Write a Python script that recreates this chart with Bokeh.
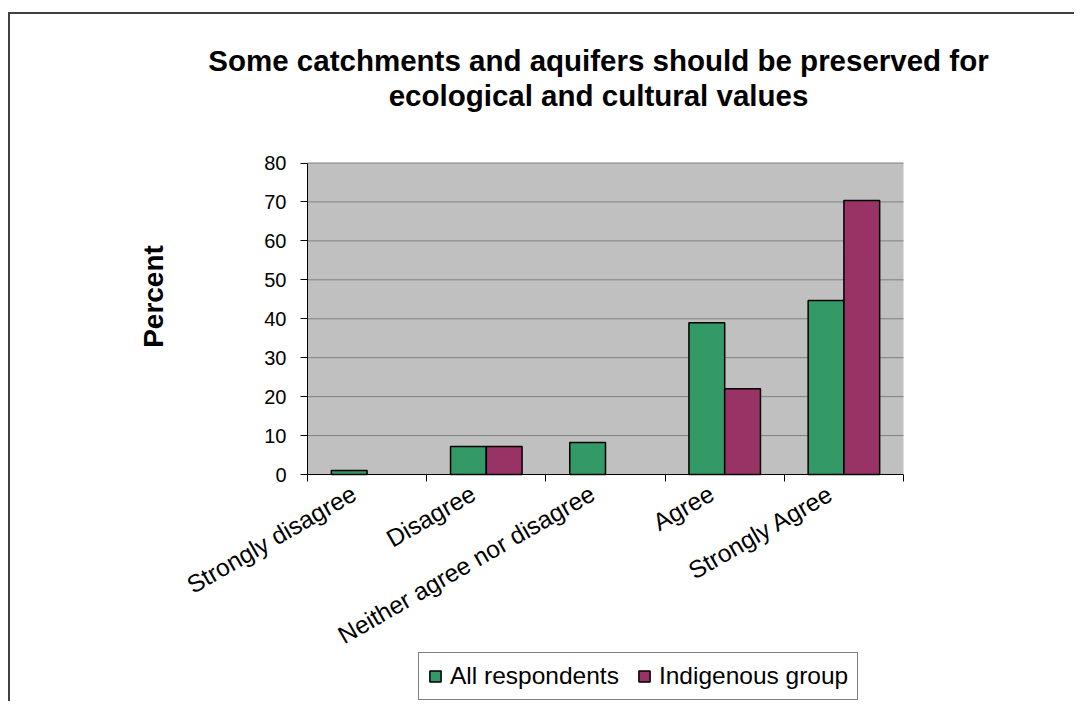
import numpy as np
from math import pi
from bokeh.plotting import figure
from bokeh.models import (FixedTicker, Legend, LegendItem, Label, Range1d,
                          LinearAxis, BoxAnnotation)
from bokeh.embed import file_html
from bokeh.resources import INLINE

# ---- data ----
title_lines = ["Some catchments and aquifers should be preserved for",
               "ecological and cultural values"]
categories = ["Strongly disagree", "Disagree", "Neither agree nor disagree",
              "Agree", "Strongly Agree"]
all_respondents = [1.0, 7.2, 8.2, 39.0, 44.7]
indigenous_group = [0.0, 7.2, 0.0, 22.0, 70.4]
series_names = ["All respondents", "Indigenous group"]
series_colors = ["#339966", "#993366"]
y_ticks = [0, 10, 20, 30, 40, 50, 60, 70, 80]
y_label = "Percent"

# ---- layout (canvas pixels) ----
FONT = "Liberation Sans"
W, H = 1066, 689
PL, PR, PT, PB = 297.0, 893.0, 148.5, 460.0   # plot-area edges on the canvas
LABEL_SHIFT = -13.0                            # px shift of category labels
ncat = len(categories)
ymin, ymax = y_ticks[0], y_ticks[-1]
sx = (PR - PL) / ncat
sy = (PB - PT) / (ymax - ymin)
x_range = Range1d(-PL / sx, ncat + (W - PR) / sx)
y_range = Range1d(ymin - (H - PB) / sy, ymax + PT / sy)

p = figure(width=W, height=H, x_range=x_range, y_range=y_range,
           output_backend="svg", toolbar_location=None,
           x_axis_location=None, y_axis_location=None,
           min_border=0)
p.styles = {"border-left": "2px solid #404040", "border-top": "2px solid #404040",
            "margin-top": "12px", "margin-left": "8px"}
p.background_fill_color = "white"
p.border_fill_color = "white"
p.outline_line_color = None
p.xgrid.visible = False
p.ygrid.visible = False

# plot area background + gridlines
p.add_layout(BoxAnnotation(left=0, right=ncat, bottom=ymin, top=ymax,
                           fill_color="#C0C0C0", fill_alpha=1, line_color=None,
                           level="underlay"))
gy = np.array(y_ticks[1:], dtype=float)
p.segment(x0=np.zeros_like(gy), x1=np.full_like(gy, ncat), y0=gy, y1=gy,
          line_color="#808080", line_width=1)

idx = np.arange(ncat)
bw = 0.3
renderers = []
for k, (vals, col) in enumerate(zip([all_respondents, indigenous_group], series_colors)):
    vals = np.array(vals)
    xs = idx + 0.5 + (k - 0.5) * bw
    m = vals > 0
    r = p.vbar(x=xs[m], top=vals[m], bottom=0, width=bw, fill_color=col,
               line_color="black", line_width=1.5)
    renderers.append(r)

# x axis: ticks at category boundaries, labels at centres
label_pos = [round(float(i + 0.5 + LABEL_SHIFT / sx), 6) for i in idx]
xa = LinearAxis(fixed_location=ymin, bounds=(0, ncat))
xa.ticker = FixedTicker(ticks=label_pos, minor_ticks=list(range(ncat + 1)))
xa.major_label_overrides = {lp: c for lp, c in zip(label_pos, categories)}
xa.major_tick_out = 0
xa.major_tick_in = 0
xa.minor_tick_out = 7
xa.minor_tick_in = 0
xa.minor_tick_line_color = "black"
xa.axis_line_color = "black"
xa.major_label_orientation = pi / 6
xa.major_label_text_font = FONT
xa.major_label_text_font_size = "24.5px"
xa.major_label_text_color = "black"
xa.major_label_standoff = 10
p.add_layout(xa, "below")

ya = LinearAxis(fixed_location=0, bounds=(ymin, ymax))
ya.ticker = FixedTicker(ticks=y_ticks, minor_ticks=[])
ya.major_tick_out = 7
ya.major_tick_in = 0
ya.major_tick_line_color = "black"
ya.axis_line_color = "black"
ya.major_label_text_font = FONT
ya.major_label_text_font_size = "20px"
ya.major_label_text_color = "black"
ya.major_label_standoff = 14
p.add_layout(ya, "left")

# title lines
for txt, yb in zip(title_lines, [46, 81]):
    p.add_layout(Label(x=588, y=H - yb, x_units="screen", y_units="screen", text=txt,
                       text_align="center", text_baseline="alphabetic",
                       text_font=FONT, text_font_size="29.5px", text_font_style="bold",
                       text_color="black"))

# y axis title
p.add_layout(Label(x=142.5, y=H - 282, x_units="screen", y_units="screen", text=y_label,
                   angle=pi / 2, text_align="center", text_baseline="middle",
                   text_font=FONT, text_font_size="28px", text_font_style="bold",
                   text_color="black"))

legend = Legend(items=[LegendItem(label=n, renderers=[r]) for n, r in zip(series_names, renderers)],
                location=(408, 3), orientation="horizontal",
                glyph_width=14, glyph_height=14, label_standoff=8, spacing=18,
                padding=9, margin=0, border_line_color="black", border_line_width=1,
                background_fill_color="white", background_fill_alpha=1,
                label_text_font=FONT, label_text_font_size="24.5px", label_text_color="black")
p.add_layout(legend)

open("out.html", "w").write(file_html(p, INLINE))
